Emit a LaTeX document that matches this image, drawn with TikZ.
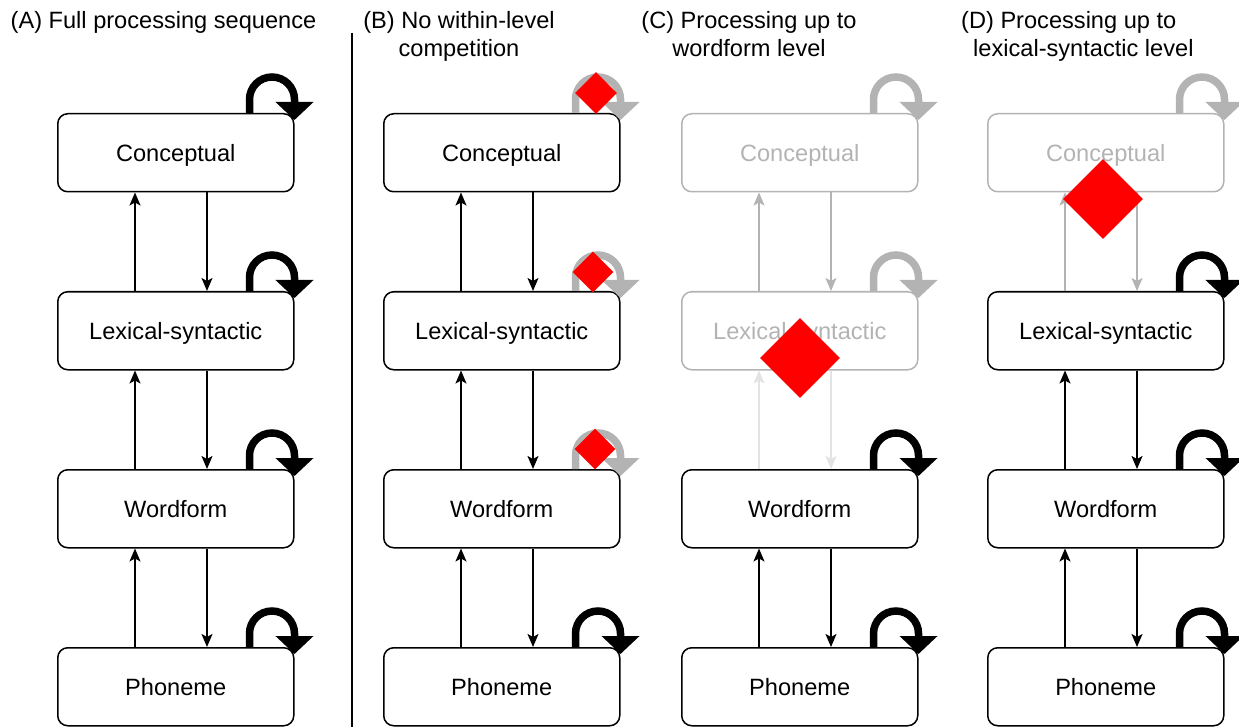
\documentclass[tikz,border=0pt]{standalone}
\usepackage{fontspec}
\setmainfont{Liberation Sans}
\usetikzlibrary{arrows.meta,shapes.geometric}
\definecolor{lg}{HTML}{B3B3B3}
\definecolor{vlg}{HTML}{E3E3E3}
\tikzset{
  lvl/.style={draw, line width=1.5pt, rounded corners=10pt, minimum width=236pt, minimum height=78pt,
    inner sep=0pt, anchor=north west, text height=17pt, text depth=0pt, font=\fontsize{23.6}{28.3}\selectfont},
  conn/.style={line width=1.5pt, -{Stealth[length=13pt,width=11pt,inset=3pt]}},
  loopar/.style={line width=7.5pt, -{Triangle[length=18pt,width=37pt]}},
  heading/.style={font=\fontsize{23.6}{28.6}\selectfont, align=center, inner sep=0pt, anchor=north},
  diam/.style={diamond, fill=red, draw=none, inner sep=0pt, aspect=1},
  divider/.style={line width=1.5pt}
}
\begin{document}
\begin{tikzpicture}[x=1pt,y=-1pt]
\useasboundingbox (0,0) rectangle (1239,727);
% headings
\node[heading] (hA) at (163.5,11) {(A) Full processing sequence};
\node[heading] (hB) at (459,11) {(B) No within-level\\competition};
\node[heading] (hC) at (749,11) {(C) Processing up to\\wordform level};
\node[heading, align=left, anchor=north west] (hD) at (961,11) {(D) Processing up to\\\hspace*{12pt}lexical-syntactic level};
\coordinate (dtop) at (352,33);
\coordinate (dbot) at (352,727);
\draw[divider] (dtop) -- (dbot);
% panels
\foreach \L/\n/\sa/\sb/\sc/\sd/\ka/\kb/\kc/\la/\lb/\lc/\ld in {
  57/A/black/black/black/black/black/black/black/black/black/black/black,
  383/B/black/black/black/black/black/black/black/lg/lg/lg/black,
  681/C/lg/lg/black/black/lg/vlg/black/lg/lg/black/black,
  987/D/lg/black/black/black/lg/black/black/lg/black/black/black}{
  \node[lvl, draw=\sa, text=\sa] (\n1) at (\L,113) {Conceptual};
  \node[lvl, draw=\sb, text=\sb] (\n2) at (\L,291) {Lexical-syntactic};
  \node[lvl, draw=\sc, text=\sc] (\n3) at (\L,469) {Wordform};
  \node[lvl, draw=\sd, text=\sd] (\n4) at (\L,647) {Phoneme};
  % connectors
  \draw[conn, \ka] ([xshift=78pt]\n2.north west) -- ([xshift=78pt]\n1.south west);
  \draw[conn, \ka] ([xshift=150pt]\n1.south west) -- ([xshift=150pt]\n2.north west);
  \draw[conn, \kb] ([xshift=78pt]\n3.north west) -- ([xshift=78pt]\n2.south west);
  \draw[conn, \kb] ([xshift=150pt]\n2.south west) -- ([xshift=150pt]\n3.north west);
  \draw[conn, \kc] ([xshift=78pt]\n4.north west) -- ([xshift=78pt]\n3.south west);
  \draw[conn, \kc] ([xshift=150pt]\n3.south west) -- ([xshift=150pt]\n4.north west);
  % self loops
  \draw[loopar, \la] ([xshift=-45pt]\n1.north east) -- ++(0,-13.5) arc (180:360:22.5) -- ++(0,20.5);
  \draw[loopar, \lb] ([xshift=-45pt]\n2.north east) -- ++(0,-13.5) arc (180:360:22.5) -- ++(0,20.5);
  \draw[loopar, \lc] ([xshift=-45pt]\n3.north east) -- ++(0,-13.5) arc (180:360:22.5) -- ++(0,20.5);
  \draw[loopar, \ld] ([xshift=-45pt]\n4.north east) -- ++(0,-13.5) arc (180:360:22.5) -- ++(0,20.5);
}
% inhibition markers
\node[diam, minimum width=42pt, minimum height=42pt] (dB1) at (596,93) {};
\node[diam, minimum width=41pt, minimum height=41pt] (dB2) at (593,272) {};
\node[diam, minimum width=41pt, minimum height=41pt] (dB3) at (595,449) {};
\node[diam, minimum width=80pt, minimum height=80pt] (dC) at (800,358) {};
\node[diam, minimum width=80pt, minimum height=80pt] (dD) at (1103,199) {};
\end{tikzpicture}
\end{document}
